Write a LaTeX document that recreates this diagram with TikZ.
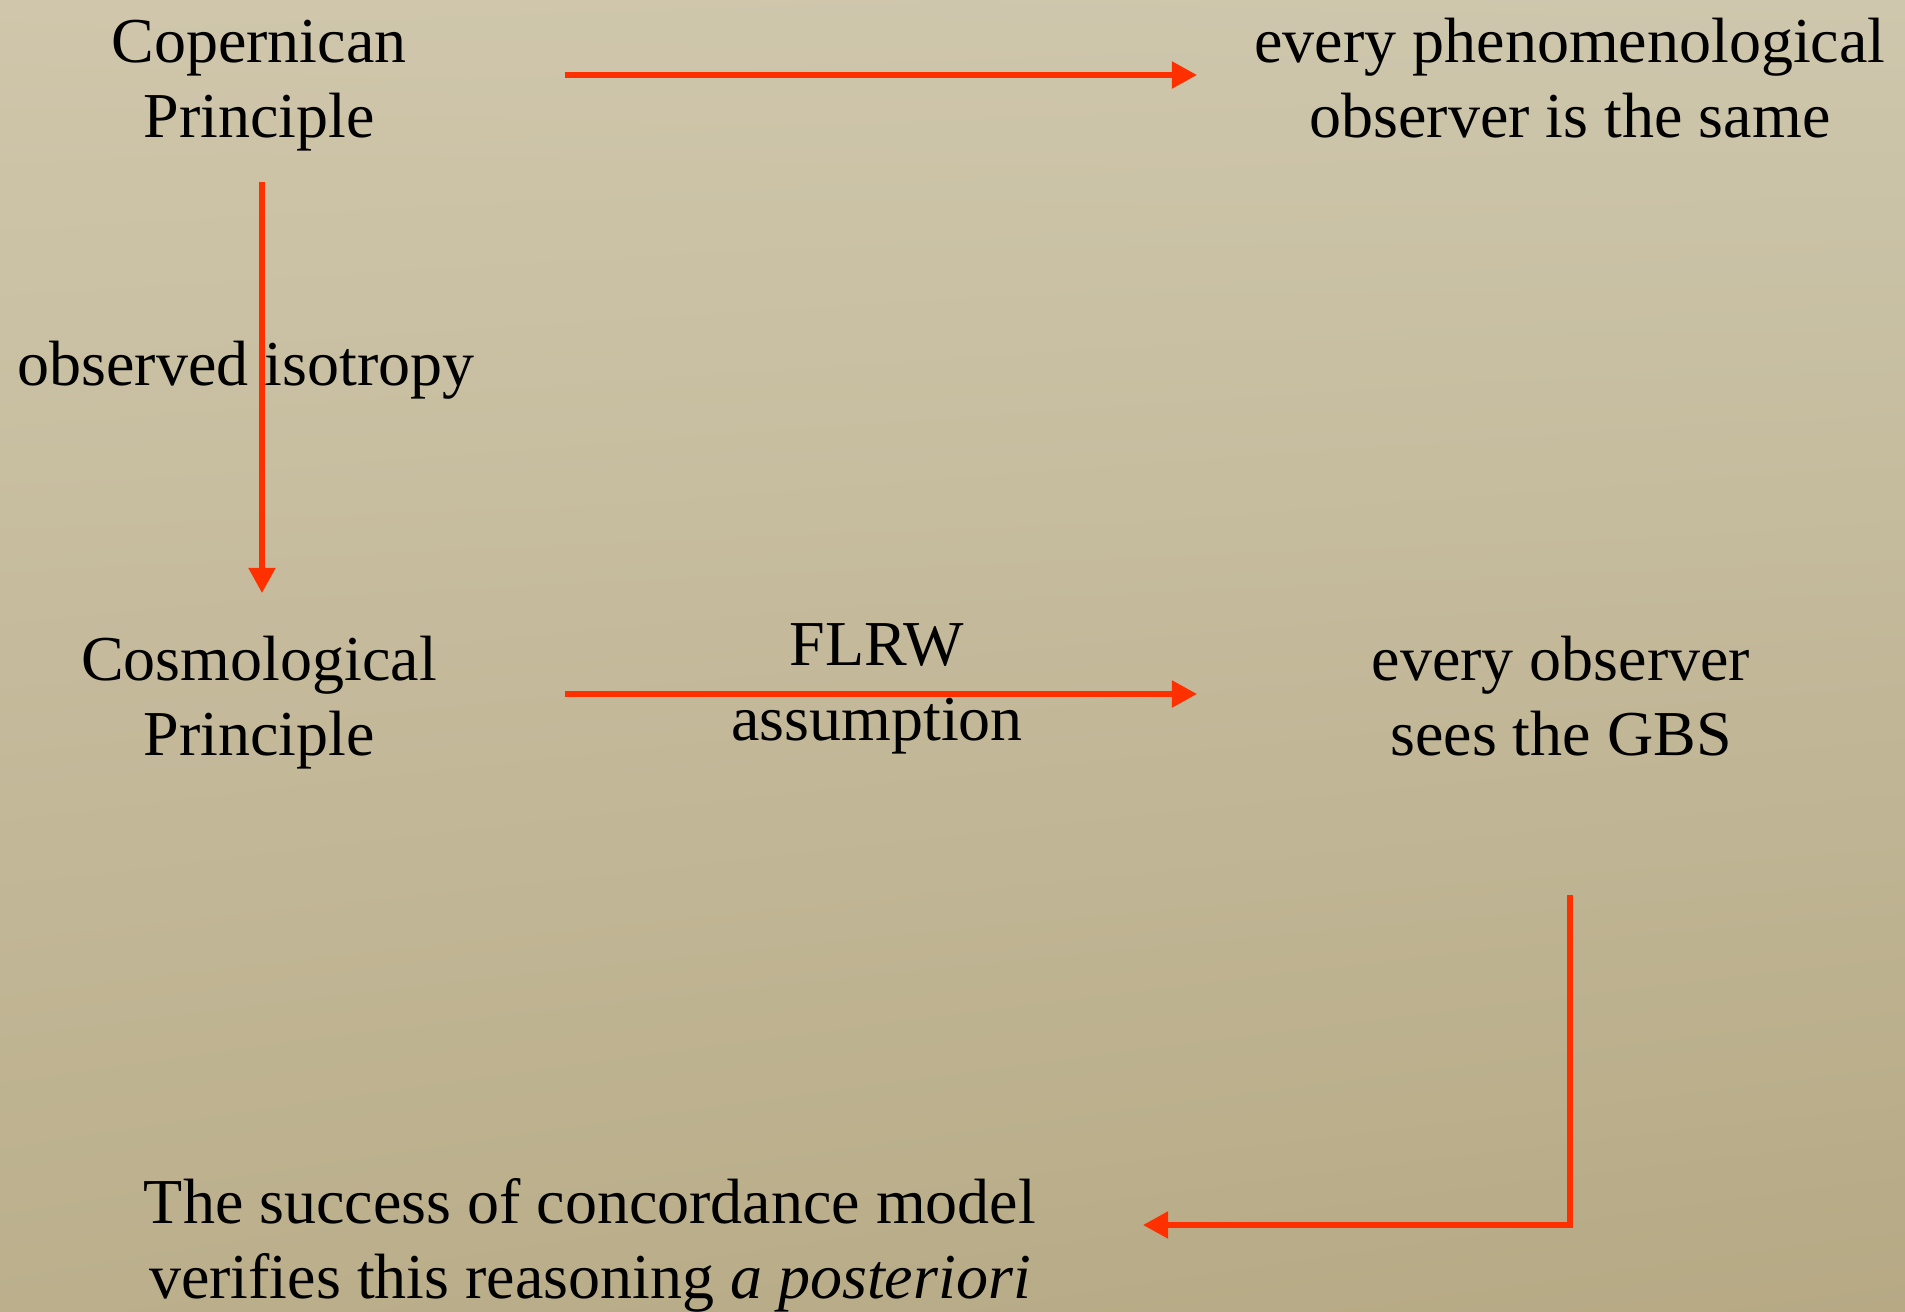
\documentclass[tikz,border=0pt]{standalone}
\usepackage{fontspec}
\setmainfont{Liberation Serif}
\usetikzlibrary{arrows.meta,shadings}
\definecolor{arrowred}{RGB}{255,48,0}
\definecolor{bgul}{RGB}{207,198,171}
\definecolor{bgur}{RGB}{206,199,173}
\definecolor{bgll}{RGB}{187,175,140}
\definecolor{bglr}{RGB}{182,169,132}
\begin{document}
\begin{tikzpicture}[x=0.01cm,y=-0.01cm,
  lbl/.style={font=\fontsize{18.2}{21.3}\selectfont, align=center, inner sep=0pt, anchor=base},
  conn/.style={draw=arrowred, line width=1.45pt, -{Triangle[length=0.25cm,width=0.26cm]}}]
\shade[upper left=bgul, upper right=bgur, lower left=bgll, lower right=bglr] (0,0) rectangle (1905,1312);
\useasboundingbox (0,0) rectangle (1905,1312);
% anchor=base of a two-line node is the baseline of its last line
\node[lbl] (cop) at (259,137) {Copernican\\Principle};
\node[lbl] (phen) at (1570,137) {every phenomenological\\observer is the same};
\node[lbl] (iso) at (246,385) {observed isotropy};
\node[lbl] (cos) at (259,755) {Cosmological\\Principle};
\node[lbl] (flrw) at (877,740) {FLRW\\assumption};
\node[lbl] (gbs) at (1561,755) {every observer\\sees the GBS};
\node[lbl] (succ) at (590,1298) {The success of concordance model\\verifies this reasoning \textit{a posteriori}};
\coordinate (a1s) at (565,75);
\coordinate (a1e) at (1197,75);
\coordinate (a2s) at (262,182);
\coordinate (a2e) at (262,593);
\coordinate (a3s) at (565,694);
\coordinate (a3e) at (1197,694);
\coordinate (a4s) at (1570,895);
\coordinate (a4c) at (1570,1225);
\coordinate (a4e) at (1143,1225);
\draw[conn] (a1s) -- (a1e);
\draw[conn] (a2s) -- (a2e);
\draw[conn] (a3s) -- (a3e);
\draw[conn] (a4s) -- (a4c) -- (a4e);
\end{tikzpicture}
\end{document}
